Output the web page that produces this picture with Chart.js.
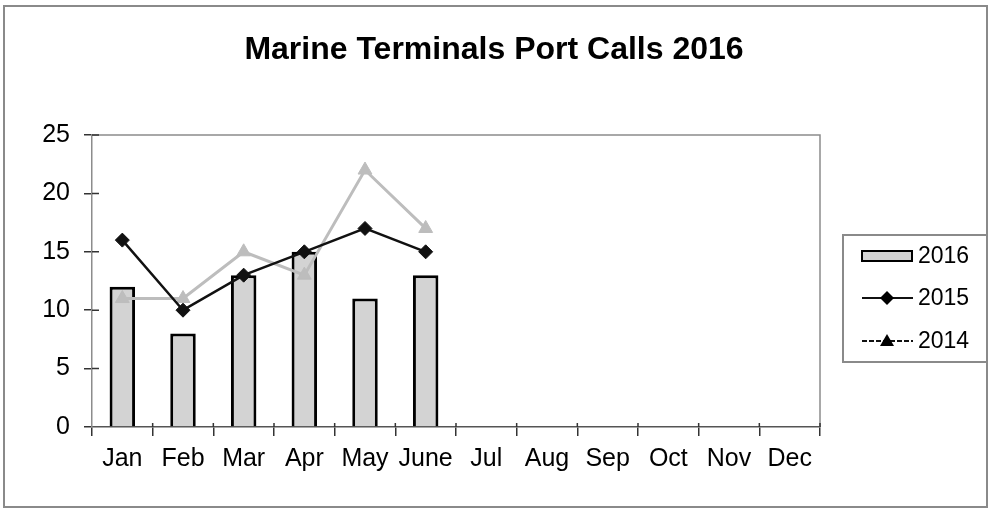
<!DOCTYPE html>
<html>
<head>
<meta charset="utf-8">
<script src="https://cdn.jsdelivr.net/npm/chart.js@4"></script>
<style>
  html, body { margin: 0; padding: 0; background: #fff; }
  canvas { display: block; }
</style>
</head>
<body>
<canvas id="portChart" width="990" height="510"></canvas>
<script>
// 数据
const months = ['Jan', 'Feb', 'Mar', 'Apr', 'May', 'June', 'Jul', 'Aug', 'Sep', 'Oct', 'Nov', 'Dec'];
const calls2016 = [12, 8, 13, 15, 11, 13, null, null, null, null, null, null];
const calls2015 = [16, 10, 13, 15, 17, 15, null, null, null, null, null, null];
const calls2014 = [11, 11, 15, 13, 22, 17, null, null, null, null, null, null];
const yTicks = [0, 5, 10, 15, 20, 25];
const chartTitle = 'Marine Terminals Port Calls 2016';

const FONT = 'Liberation Sans, Arial, sans-serif';
const GRAY_BAR = '#d3d3d3';
const GRAY_LINE = '#bdbdbd';

// 标题、外框、绘图区边框、图例
const framePlugin = {
    id: 'frame',
    afterDraw(chart) {
        const c = chart.ctx;
        const a = chart.chartArea;
        const y = chart.scales.y;
        c.save();
        // 标题 (整个画布居中)
        c.fillStyle = '#000';
        c.font = 'bold 32px ' + FONT;
        c.textAlign = 'center';
        c.textBaseline = 'middle';
        c.fillText(chartTitle, 494, 50);
        // 外框
        c.strokeStyle = '#8a8a8a';
        c.lineWidth = 2;
        c.strokeRect(4, 6, 983, 501);
        // 绘图区边框 (上, 右)
        c.strokeStyle = '#8c8c8c';
        c.lineWidth = 1.5;
        c.beginPath();
        c.moveTo(a.left, a.top);
        c.lineTo(a.right, a.top);
        c.lineTo(a.right, a.bottom);
        c.stroke();
        // 穿过坐标轴的刻度线 (内侧部分)
        c.strokeStyle = '#333';
        c.lineWidth = 1.5;
        c.beginPath();
        const step = (a.right - a.left) / months.length;
        for (let i = 1; i <= months.length; i++) {
            const px = a.left + step * i;
            c.moveTo(px, a.bottom);
            c.lineTo(px, a.bottom - 4);
        }
        yTicks.forEach(v => {
            if (v === 0) return;
            const py = y.getPixelForValue(v);
            c.moveTo(a.left, py);
            c.lineTo(a.left + 7, py);
        });
        c.stroke();

        // 图例
        const lx = 843, ly = 235, lw = 144, lh = 127;
        c.strokeStyle = '#8a8a8a';
        c.lineWidth = 2;
        c.strokeRect(lx, ly, lw, lh);
        c.font = '23px ' + FONT;
        c.textBaseline = 'middle';
        c.textAlign = 'left';
        const rows = [256, 298, 341];
        chart.data.datasets.forEach((ds, i) => {
            const ry = rows[i];
            if (ds.type === 'line') {
                c.strokeStyle = '#111';
                c.lineWidth = 2;
                if (i === 2) c.setLineDash([5, 2]);
                c.beginPath();
                c.moveTo(862, ry);
                c.lineTo(913, ry);
                c.stroke();
                c.setLineDash([]);
                c.fillStyle = '#000';
                c.beginPath();
                if (ds.pointStyle === 'rectRot') {
                    c.moveTo(887, ry - 7);
                    c.lineTo(894, ry);
                    c.lineTo(887, ry + 7);
                    c.lineTo(880, ry);
                } else {
                    c.moveTo(887, ry - 7);
                    c.lineTo(894, ry + 5);
                    c.lineTo(880, ry + 5);
                }
                c.closePath();
                c.fill();
            } else {
                c.fillStyle = GRAY_BAR;
                c.fillRect(862, ry - 5, 50, 10);
                c.strokeStyle = '#000';
                c.lineWidth = 2;
                c.strokeRect(862, ry - 5, 50, 10);
            }
            c.fillStyle = '#000';
            c.fillText(ds.label, 918, ry + 1);
        });
        c.restore();
    }
};

const ctx = document.getElementById('portChart').getContext('2d');
new Chart(ctx, {
    type: 'bar',
    data: {
        labels: months,
        datasets: [
            {
                label: '2016',
                data: calls2016,
                backgroundColor: GRAY_BAR,
                borderColor: '#000',
                borderWidth: 3,
                barPercentage: 0.42,
                categoryPercentage: 1,
                order: 3
            },
            {
                type: 'line',
                label: '2015',
                data: calls2015,
                borderColor: '#111',
                backgroundColor: '#111',
                borderWidth: 2.5,
                pointStyle: 'rectRot',
                pointRadius: 7,
                pointBorderWidth: 1,
                tension: 0,
                order: 1
            },
            {
                type: 'line',
                label: '2014',
                data: calls2014,
                borderColor: GRAY_LINE,
                backgroundColor: GRAY_LINE,
                borderWidth: 3,
                pointStyle: 'triangle',
                pointRadius: 8,
                pointBorderWidth: 1,
                tension: 0,
                order: 2
            }
        ]
    },
    options: {
        responsive: false,
        animation: false,
        devicePixelRatio: 1,
        layout: {
            padding: { left: 0, right: 170, top: 135, bottom: 20 }
        },
        plugins: {
            legend: { display: false },
            tooltip: { enabled: false },
            title: { display: false }
        },
        scales: {
            x: {
                offset: true,
                grid: {
                    display: true,
                    offset: true,
                    drawOnChartArea: false,
                    drawTicks: true,
                    tickLength: 9,
                    color: '#333',
                    lineWidth: 1.5
                },
                border: { display: true, color: '#555', width: 1.5 },
                ticks: {
                    color: '#000',
                    font: { family: FONT, size: 25 },
                    padding: 8,
                    maxRotation: 0,
                    autoSkip: false
                },
                afterFit(scale) { scale.height = 63; }
            },
            y: {
                min: 0,
                max: 25,
                afterBuildTicks(scale) {
                    scale.ticks = yTicks.map(v => ({ value: v }));
                },
                grid: {
                    display: true,
                    drawOnChartArea: false,
                    drawTicks: true,
                    tickLength: 8,
                    color: '#333',
                    lineWidth: 1.5
                },
                border: { display: true, color: '#8c8c8c', width: 1.5 },
                ticks: {
                    color: '#000',
                    font: { family: FONT, size: 25 },
                    padding: 14
                },
                afterFit(scale) { scale.width = 92; }
            }
        }
    },
    plugins: [framePlugin]
});
</script>
</body>
</html>
